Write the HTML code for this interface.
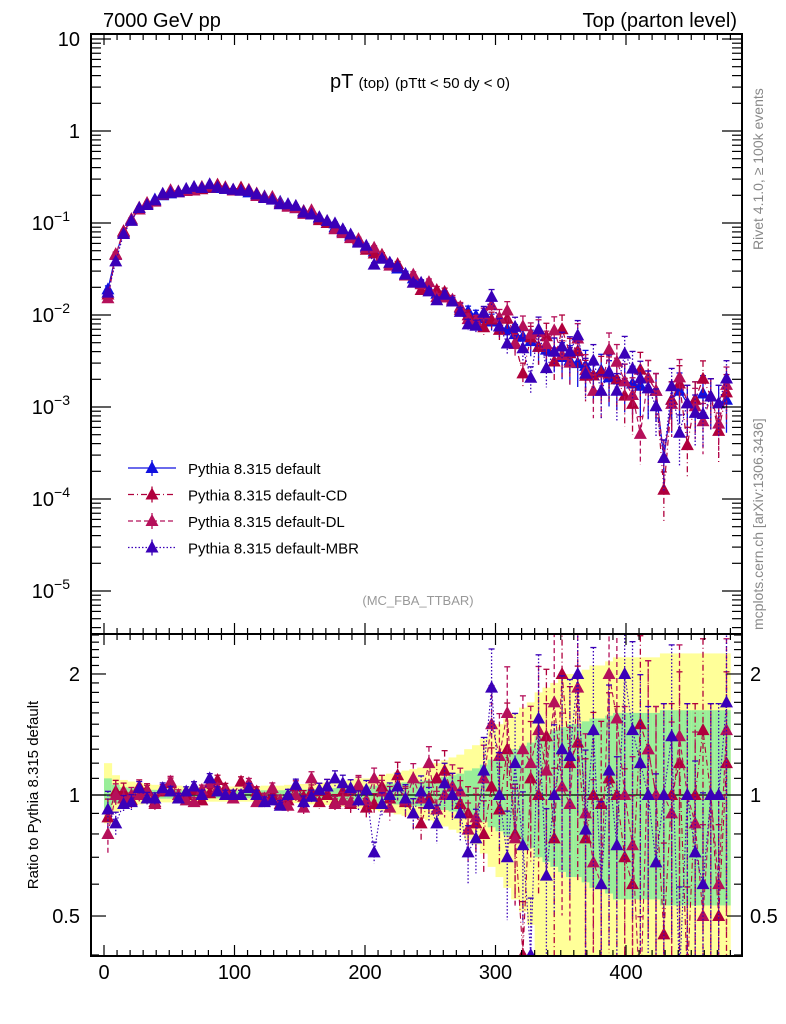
<!DOCTYPE html>
<html><head><meta charset="utf-8"><style>
html,body{margin:0;padding:0;background:#fff;overflow:hidden;width:786px;height:1024px;}
svg{display:block;font-family:"Liberation Sans",sans-serif;}
</style></head><body>
<svg id="c" width="786" height="1024" viewBox="0 0 786 1024" xmlns="http://www.w3.org/2000/svg">
<defs>
<clipPath id="cm"><rect x="91" y="34" width="651" height="600"/></clipPath>
<clipPath id="cr"><rect x="91" y="634" width="651" height="322"/></clipPath>
</defs>
<text x="103" y="27" font-size="20">7000 GeV pp</text>
<text x="737" y="27" font-size="20" text-anchor="end">Top (parton level)</text>
<text x="420" y="88" font-size="20" text-anchor="middle">pT <tspan font-size="15">(top)</tspan> <tspan font-size="15">(pTtt &lt; 50 dy &lt; 0)</tspan></text>
<text x="418" y="605" font-size="13" fill="#999" text-anchor="middle">(MC_FBA_TTBAR)</text>
<text transform="translate(763,250) rotate(-90)" font-size="14" fill="#888">Rivet 4.1.0, ≥ 100k events</text>
<text transform="translate(763,630) rotate(-90)" font-size="14" fill="#888">mcplots.cern.ch [arXiv:1306.3436]</text>
<text transform="translate(38,795) rotate(-90)" font-size="15" text-anchor="middle">Ratio to Pythia 8.315 default</text>
<g id="bands" clip-path="url(#cr)"></g>
<g id="main" clip-path="url(#cm)"></g>
<g id="ratio" clip-path="url(#cr)"></g>
<g id="axes"></g>
<g id="legend"></g>
</svg>
<script>
const binCenters = [3,9,15,21,27,33,39,45,51,57,63,69,75,81,87,93,99,105,111,117,123,129,135,141,147,153,159,165,171,177,183,189,195,201,207,213,219,225,231,237,243,249,255,261,267,273,279,285,291,297,303,309,315,321,327,333,339,345,351,357,363,369,375,381,387,393,399,405,411,417,423,429,435,441,447,453,459,465,471,477];
const defaultValues = [0.019,0.045,0.08,0.11,0.14,0.16,0.18,0.2,0.21,0.22,0.23,0.235,0.24,0.24,0.24,0.235,0.23,0.225,0.215,0.205,0.195,0.185,0.17,0.16,0.145,0.135,0.125,0.112,0.1,0.09,0.08,0.072,0.063,0.055,0.049,0.043,0.037,0.032,0.028,0.025,0.022,0.019,0.017,0.0155,0.014,0.012,0.011,0.0098,0.0092,0.0085,0.0075,0.007,0.0062,0.0058,0.0052,0.0045,0.0042,0.004,0.0035,0.0032,0.003,0.0028,0.0022,0.0025,0.0021,0.002,0.0019,0.0018,0.0017,0.0016,0.0015,0.00028,0.0012,0.0015,0.0011,0.0012,0.0014,0.0013,0.0011,0.0012];
const ratioCD = [0.88,1.02,1.02,0.97,1.05,1.03,0.96,1.02,1.07,0.98,1.0,1.03,0.97,1.01,1.09,1.04,1.0,1.08,1.05,1.02,0.98,1.0,0.95,0.97,1.05,0.99,1.02,0.96,1.0,0.96,1.02,0.95,1.05,0.93,0.95,1.05,0.98,1.12,0.96,0.9,0.85,0.98,1.1,1.15,1.0,0.95,0.9,0.85,0.8,1.05,0.92,1.3,0.8,0.4,1.1,1.0,1.4,0.78,2.0,1.2,1.35,0.78,1.0,0.95,1.1,1.0,0.7,0.6,1.5,1.3,1.0,0.45,1.0,1.2,0.35,1.0,1.45,1.0,0.5,1.2];
const ratioDL = [0.8,1.0,0.98,1.0,1.0,1.02,0.95,1.03,1.08,1.0,0.97,0.96,1.03,1.07,1.04,1.02,0.98,1.0,1.07,0.96,0.98,1.04,0.97,0.94,1.0,0.93,1.1,1.03,1.05,0.95,0.97,0.96,1.06,0.97,1.1,1.02,0.93,1.05,0.97,1.1,0.98,1.2,0.92,1.0,1.05,1.02,0.82,0.88,1.1,1.5,1.25,1.6,0.78,1.3,1.2,1.45,1.15,1.7,1.05,0.95,1.85,0.9,0.68,0.6,2.0,1.55,1.0,0.75,0.3,1.3,1.0,1.0,0.9,1.4,1.0,0.85,0.5,1.0,0.6,1.45];
const ratioMBR = [0.92,0.85,0.95,0.96,1.04,0.98,0.98,1.04,1.02,0.98,1.02,1.05,1.0,1.1,1.02,1.0,1.0,1.0,1.04,1.0,0.96,0.97,0.94,1.0,1.06,0.96,0.99,1.03,1.05,1.1,1.07,1.04,0.97,1.03,0.72,0.95,1.0,1.05,0.98,0.9,1.02,0.95,0.85,1.07,1.0,0.9,0.72,0.78,1.15,1.85,1.0,0.7,1.2,0.75,0.4,1.55,0.63,1.0,1.3,1.25,2.0,0.82,1.45,0.6,1.15,0.75,2.0,1.45,1.2,1.0,0.68,1.0,1.4,0.35,1.0,0.72,0.6,1.0,1.0,1.7];
const relErr = [0.2,0.12,0.09,0.08,0.07,0.065,0.06,0.055,0.055,0.055,0.05,0.05,0.05,0.05,0.05,0.05,0.05,0.05,0.05,0.05,0.055,0.055,0.055,0.06,0.06,0.065,0.07,0.07,0.075,0.08,0.085,0.09,0.1,0.1,0.11,0.12,0.13,0.14,0.15,0.16,0.17,0.18,0.2,0.22,0.24,0.26,0.3,0.33,0.38,0.45,0.5,0.55,0.6,0.65,0.7,0.8,0.85,0.9,0.95,1.0,1.0,1.05,1.1,1.1,1.15,1.2,1.2,1.2,1.2,1.2,1.2,1.25,1.25,1.25,1.25,1.25,1.25,1.25,1.25,1.25];
const xTicks = [0,100,200,300,400];
const mainTickExps = [1,0,-1,-2,-3,-4,-5];
const ratioTicks = [0.5,1,2];

const NS="http://www.w3.org/2000/svg";
const X0=104, XS=1.305, BW=6;
function xs(v){return X0+v*XS;}
function ym(v){return 39-92*(Math.log10(v)-1);}
function yr(v){return 795-402*Math.log10(v);}
function mk(tag,attrs,parent){const e=document.createElementNS(NS,tag);for(const k in attrs)e.setAttribute(k,attrs[k]);parent.appendChild(e);return e;}
const G=id=>document.getElementById(id);

const bandsG=G('bands');
for(let i=0;i<binCenters.length;i++){
  const x1=xs(binCenters[i]-BW/2), w=BW*XS+0.3;
  const ey=relErr[i], eg=relErr[i]*0.5;
  const lo=Math.max(1-ey*0.75,0.3), hi=1+ey;
  let r=mk('rect',{x:x1,y:yr(hi),width:w,height:yr(lo)-yr(hi),fill:'#ffff99'},bandsG);
  
  
  const lo2=Math.max(1-eg*0.75,0.3), hi2=1+eg;
  r=mk('rect',{x:x1,y:yr(hi2),width:w,height:yr(lo2)-yr(hi2),fill:'#99ee99'},bandsG);
  
  
}
let ln=mk('line',{x1:91,x2:742,y1:yr(1),y2:yr(1),stroke:'#000','stroke-width':1.2},bandsG);



const series=[
 {name:'default',color:'#1010e0',dash:'',ratio:null},
 {name:'default-cd',color:'#b0003c',dash:'6,3,1,3',ratio:ratioCD},
 {name:'default-dl',color:'#b5105a',dash:'5,3',ratio:ratioDL},
 {name:'default-mbr',color:'#3a00b8',dash:'1.5,2',ratio:ratioMBR}
];
function tri(g,x,y,c){return mk('polygon',{points:`${x},${y-7} ${x-6.5},${y+5} ${x+6.5},${y+5}`,fill:c},g);}

const mainG=G('main'), ratioG=G('ratio');
series.forEach(s=>{
  const gm=mk('g',{},mainG);
  
  
  const pts=[];
  for(let i=0;i<binCenters.length;i++){
    const v=defaultValues[i]*(s.ratio?s.ratio[i]:1);
    const x=xs(binCenters[i]);
    pts.push(x+','+ym(v));
    const e=relErr[i]*0.45*v;
    const lo=v-e>0?ym(v-e):700;
    mk('line',{x1:x,x2:x,y1:ym(v+e),y2:lo,stroke:s.color,'stroke-width':1.3,'stroke-dasharray':s.dash},gm);
    mk('line',{x1:x-3,x2:x+3,y1:ym(v+e),y2:ym(v+e),stroke:s.color,'stroke-width':1.3},gm);
  }
  mk('polyline',{points:pts.join(' '),fill:'none',stroke:s.color,'stroke-width':1.2,'stroke-dasharray':s.dash},gm);
  for(let i=0;i<binCenters.length;i++){
    const v=defaultValues[i]*(s.ratio?s.ratio[i]:1);
    const t=tri(gm,xs(binCenters[i]),ym(v),s.color);
    
    
  }
  if(s.ratio){
    const gr=mk('g',{},ratioG);
    
    
    const rp=[];
    for(let i=0;i<binCenters.length;i++){
      const v=s.ratio[i], x=xs(binCenters[i]);
      const e=relErr[i]*0.55*v;
      rp.push(x+','+yr(v));
      const lo=v-e>0.05?yr(v-e):990;
      mk('line',{x1:x,x2:x,y1:yr(v+e),y2:lo,stroke:s.color,'stroke-width':1.3,'stroke-dasharray':s.dash},gr);
      mk('line',{x1:x-3,x2:x+3,y1:yr(v+e),y2:yr(v+e),stroke:s.color,'stroke-width':1.3},gr);
    }
    mk('polyline',{points:rp.join(' '),fill:'none',stroke:s.color,'stroke-width':1.1,'stroke-dasharray':s.dash},gr);
    for(let i=0;i<binCenters.length;i++){
      const t=tri(gr,xs(binCenters[i]),yr(s.ratio[i]),s.color);
      
      
    }
  }
});

const ax=G('axes');
const st={stroke:'#000','stroke-width':2,fill:'none'};
let fr=mk('rect',Object.assign({x:91,y:34,width:651,height:600},st),ax);


fr=mk('rect',Object.assign({x:91,y:634,width:651,height:322},st),ax);


function tk(x1,y1,x2,y2){mk('line',{x1,y1,x2,y2,stroke:'#000','stroke-width':1.2},ax);}
for(let v=-10;v<=480;v+=10){
  const x=xs(v); const L=(v%100===0)?11:6;
  if(x<92||x>741)continue;
  tk(x,34,x,34+L);tk(x,634,x,634-L);tk(x,634,x,634+L);tk(x,956,x,956-L);
}
xTicks.forEach(v=>{
  const t=mk('text',{x:xs(v),y:979,'font-size':20,'text-anchor':'middle'},ax);
  t.textContent=v;
  
  
});
for(let e=-6;e<=1;e++){
  for(let m=1;m<=9;m++){
    const v=m*Math.pow(10,e); const y=ym(v);
    if(y<35||y>633)continue;
    const L=m===1?20:10;
    tk(91,y,91+L,y);tk(742,y,742-L,y);
  }
}
mainTickExps.forEach(e=>{
  const y=ym(Math.pow(10,e))+7;
  const t=mk('text',{x:80,y:y,'font-size':20,'text-anchor':'end'},ax);
  if(e===1)t.textContent='10';
  else if(e===0)t.textContent='1';
  else {t.textContent='10';const s=mk('tspan',{dy:-9,'font-size':14},t);s.textContent='\u2212'+(-e);t.setAttribute('x',70);}
  
  
});
[0.4,0.5,0.6,0.7,0.8,0.9,1,1.1,1.2,1.3,1.4,1.5,1.6,1.7,1.8,1.9,2,2.1,2.2,2.3,2.4,2.5].forEach(v=>{
  const y=yr(v); if(y<635||y>955)return;
  const L=(v===0.5||v===1||v===2)?15:8;
  tk(91,y,91+L,y);tk(742,y,742-L,y);
});
ratioTicks.forEach(v=>{
  let t=mk('text',{x:80,y:yr(v)+7,'font-size':20,'text-anchor':'end'},ax);
  t.textContent=v;
  
  
  t=mk('text',{x:750,y:yr(v)+7,'font-size':20},ax);
  t.textContent=v;
  
  
});
const lg=G('legend');
const labels=['Pythia 8.315 default','Pythia 8.315 default-CD','Pythia 8.315 default-DL','Pythia 8.315 default-MBR'];
series.forEach((s,i)=>{
  const y=468+i*26.5;
  const g=mk('g',{},lg);
  
  
  mk('line',{x1:128,x2:176,y1:y,y2:y,stroke:s.color,'stroke-width':1.3,'stroke-dasharray':s.dash},g);
  mk('line',{x1:152,x2:152,y1:y-8,y2:y+8,stroke:s.color,'stroke-width':1.3},g);
  tri(g,152,y,s.color);
  const t=mk('text',{x:188,y:y+6,'font-size':15},g);
  t.textContent=labels[i];
});
</script>
</body></html>
